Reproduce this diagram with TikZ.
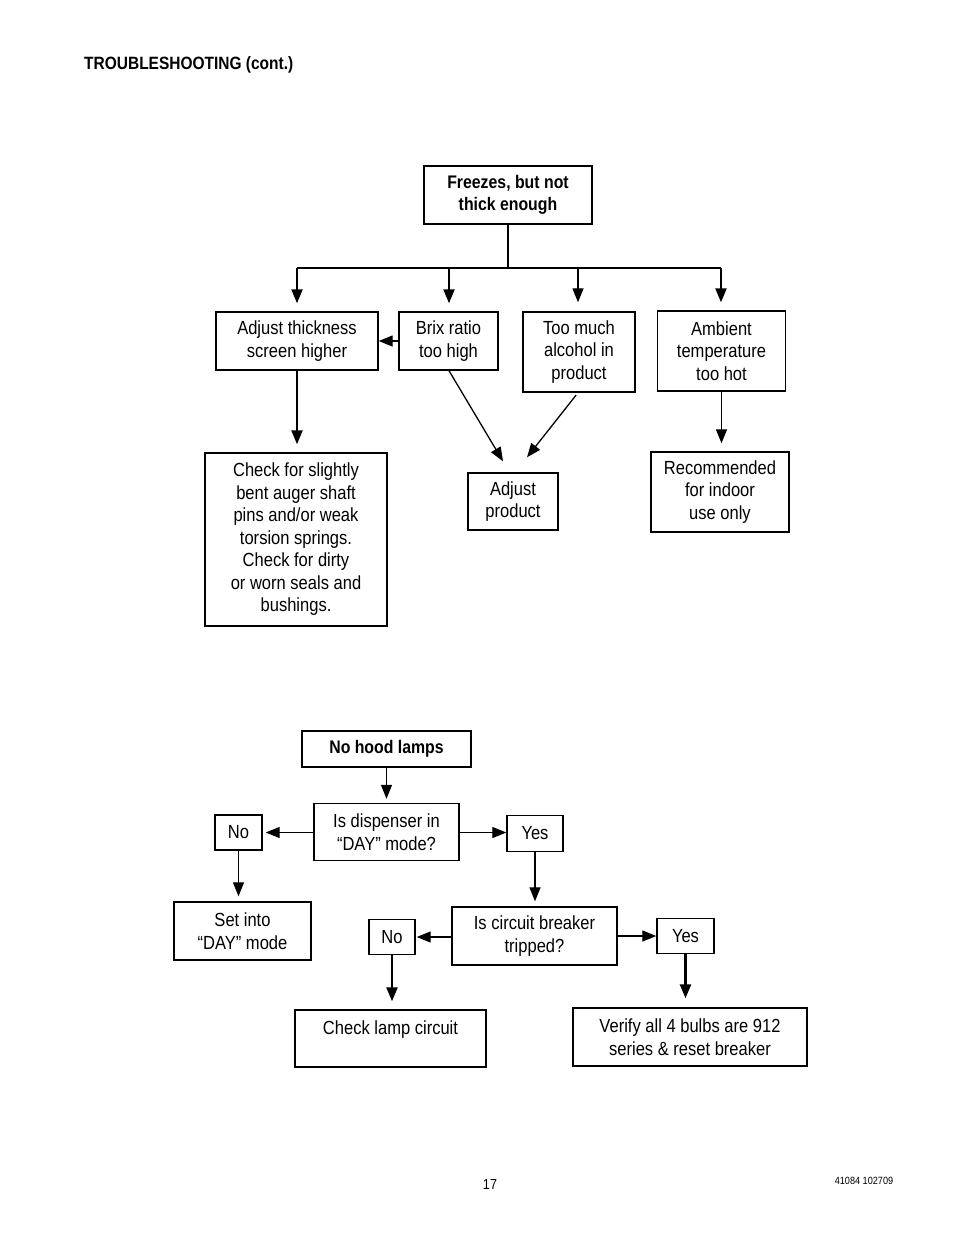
\documentclass[tikz,border=0pt]{standalone}
\usepackage{fontspec}
\setmainfont{Liberation Sans}[FakeStretch=0.87]
\usetikzlibrary{arrows.meta,calc}
\begin{document}
\begin{tikzpicture}[x=1pt,y=-1pt,
  box/.style={draw,line width=1.4pt,inner sep=0pt,align=center,font=\fontsize{19}{22.5}\selectfont},
  bbox/.style={box,font=\bfseries\fontsize{18.2}{22.5}\selectfont},
  arr/.style={line width=1.3pt,-{Triangle[length=14pt,width=11pt]}},
  tarr/.style={line width=2.3pt,-{Triangle[length=14pt,width=11pt]}},
  thinln/.style={line width=1.3pt},
  thickln/.style={line width=2.3pt}]
\useasboundingbox (0,0) rectangle (954,1235);
\fill[white] (0,0) rectangle (954,1235);

\node[anchor=west,inner sep=0pt,font=\bfseries\fontsize{17.8}{20}\selectfont] (title) at (84,65) {TROUBLESHOOTING (cont.)};
\node[font=\fontsize{14.5}{16}\selectfont] (pg) at (490,1184) {17};
\node[font=\fontsize{10.5}{12}\selectfont] (code) at (864,1181) {41084 102709};

% ---- top chart
\node[bbox,minimum width=168pt,minimum height=58pt] (frz) at (508,195) {Freezes, but not\\thick enough};
\node[box,minimum width=162pt,minimum height=58pt] (adj) at (297,341) {Adjust thickness\\screen higher};
\node[box,minimum width=99pt,minimum height=58pt] (brix) at (448.5,341) {Brix ratio\\too high};
\node[box,minimum width=112pt,minimum height=80pt] (tm) at (579,352) {Too much\\alcohol in\\product};
\node[box,minimum width=128pt,minimum height=80pt] (amb) at (721.5,351) {Ambient\\temperature\\too hot};
\node[box,minimum width=182pt,minimum height=173pt] (chk) at (296,539.5) {Check for slightly\\bent auger shaft\\pins and/or weak\\torsion springs.\\Check for dirty\\or worn seals and\\bushings.};
\node[box,minimum width=90pt,minimum height=57pt] (adjp) at (513,501.5) {Adjust\\product};
\node[box,minimum width=138pt,minimum height=80pt] (rec) at (720,492) {Recommended\\for indoor\\use only};

\coordinate (bar) at (508,268);
\coordinate (b1) at (297,268);
\coordinate (b2) at (449,268);
\coordinate (b3) at (578,268);
\coordinate (b4) at (721,268);
\draw[thinln] (frz.south) -- (bar);
\draw[thickln] (b1) -- (b4);
\draw[tarr,shorten >=8pt] (b1) -- (b1 |- adj.north);
\draw[tarr,shorten >=8pt] (b2) -- (b2 |- brix.north);
\draw[arr,shorten >=9pt] (b3) -- (b3 |- tm.north);
\draw[tarr,shorten >=8pt] (b4) -- (b4 |- amb.north);
\draw[arr] (brix.west) -- (adj.east);
\draw[tarr,shorten >=8pt] (adj.south) -- (adj.south |- chk.north);
\draw[arr] (b2 |- brix.south) -- ($(adjp.north)+(-10,-11)$);
\draw[arr,shorten <=3pt] (b3 |- tm.south) -- ($(adjp.north)+(14,-15)$);
\draw[arr,shorten >=8pt] (amb.south) -- (amb.south |- rec.north);

% ---- bottom chart
\node[bbox,minimum width=169pt,minimum height=36pt] (nhl) at (386.5,749) {No hood lamps};
\node[box,minimum width=145pt,minimum height=57pt] (disp) at (386.5,832) {Is dispenser in\\``DAY'' mode?};
\node[box,minimum width=47pt,minimum height=35pt] (no1) at (238.5,832.5) {No};
\node[box,minimum width=56pt,minimum height=36pt] (yes1) at (535,833.5) {Yes};
\node[box,minimum width=137pt,minimum height=58pt] (set) at (242.5,931) {Set into\\``DAY'' mode};
\node[box,minimum width=165pt,minimum height=58pt] (cb) at (534.5,936) {Is circuit breaker\\tripped?};
\node[box,minimum width=46pt,minimum height=35pt] (no2) at (392,937) {No};
\node[box,minimum width=57pt,minimum height=35pt] (yes2) at (685.5,936) {Yes};
\node[box,minimum width=191pt,minimum height=57pt] (cl) at (390.5,1038.5) {Check lamp circuit\\\mbox{}};
\node[box,minimum width=234pt,minimum height=58pt] (ver) at (690,1037) {Verify all 4 bulbs are 912\\series \& reset breaker};

\draw[arr,shorten >=4pt] (nhl.south) -- (disp.north);
\draw[arr,shorten >=3pt] (disp.west |- no1.east) -- (no1.east);
\draw[arr] (disp.east |- no1.east) -- (yes1.west |- no1.east);
\draw[arr,shorten >=5pt] (no1.south) -- (no1.south |- set.north);
\draw[arr,shorten >=5pt] (yes1.south) -- (yes1.south |- cb.north);
\draw[arr,shorten >=1pt] (cb.west |- no2.east) -- (no2.east);
\draw[arr] (cb.east |- yes2.west) -- (yes2.west);
\draw[tarr,shorten >=8pt] (no2.south) -- (no2.south |- cl.north);
\draw[tarr,shorten >=9pt] (yes2.south) -- (yes2.south |- ver.north);
\end{tikzpicture}
\end{document}
